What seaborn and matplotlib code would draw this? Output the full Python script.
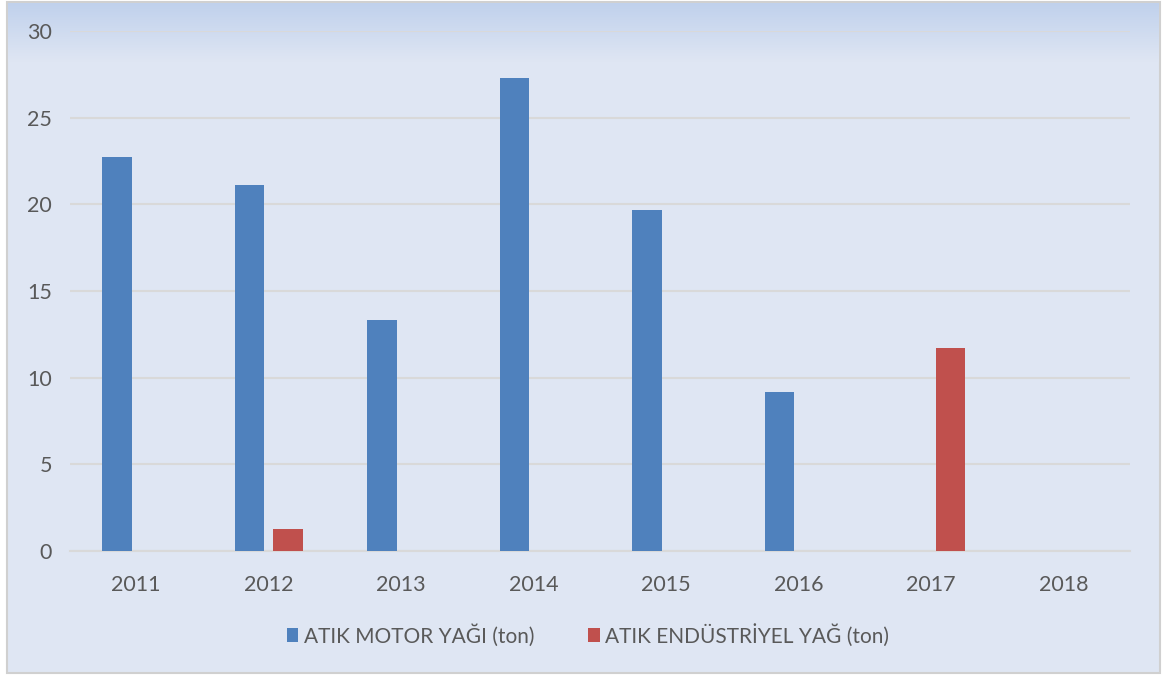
import numpy as np
import pandas as pd
import matplotlib
matplotlib.use("Agg")
import matplotlib.pyplot as plt
from matplotlib.patches import Rectangle, Patch
import seaborn as sns

years = ["2011", "2012", "2013", "2014", "2015", "2016", "2017", "2018"]
motor_oil = [22.75, 21.1, 13.35, 27.3, 19.65, 9.2, 0, 0]
industrial_oil = [0, 1.25, 0, 0, 0, 0, 11.7, 0]
series_names = ["ATIK MOTOR YAĞI (ton)", "ATIK ENDÜSTRİYEL YAĞ (ton)"]
colors = ["#4F81BD", "#C0504D"]
yticks = [0, 5, 10, 15, 20, 25, 30]

df = pd.DataFrame({
    "year": years * 2,
    "value": motor_oil + industrial_oil,
    "series": [series_names[0]] * len(years) + [series_names[1]] * len(years),
})

sns.set_theme(style="white")
plt.rcParams["font.family"] = ["Lato", "DejaVu Sans"]

W, H = 1163, 675
fig = plt.figure(figsize=(W / 100, H / 100), dpi=100)
fig.patch.set_facecolor("white")

# background with top gradient
bg = fig.add_axes([0, 0, 1, 1], zorder=-10)
bg.set_xlim(0, W)
bg.set_ylim(H, 0)
bg.axis("off")
bg.add_patch(Rectangle((7, 2), 1153, 671, facecolor="#DFE6F3", edgecolor="#D0D0D0", lw=1.5))
top_c = np.array([0xC0, 0xD1, 0xEC]) / 255
bot_c = np.array([0xDF, 0xE6, 0xF3]) / 255
n = 64
t = np.linspace(0, 1, n)[:, None]
grad = (top_c[None, :] * (1 - t) + bot_c[None, :] * t)[:, None, :]
bg.imshow(grad, extent=(8, 1159, 62, 3), aspect="auto", interpolation="bilinear", zorder=1)

ax = fig.add_axes([70 / W, 1 - 551 / H, (1130 - 70) / W, (551 - 31) / H])
ax.patch.set_alpha(0)
sns.barplot(data=df, x="year", y="value", hue="series", palette=colors,
            saturation=1, width=0.58, gap=0.23, ax=ax, legend=False, zorder=3,
            edgecolor="none")
ax.set_ylim(0, 30)
ax.set_xlim(-0.5, len(years) - 0.5)
ax.set_yticks(yticks)
ax.yaxis.grid(True, color="#D9D9D9", lw=1.5, zorder=0)
ax.set_axisbelow(True)
for s in ["top", "right", "left"]:
    ax.spines[s].set_visible(False)
ax.spines["bottom"].set_color("#D9D9D9")
ax.spines["bottom"].set_linewidth(1.5)
ax.set_xlabel("")
ax.set_ylabel("")
ax.tick_params(axis="both", length=0, labelsize=15.5, colors="#595959")
ax.tick_params(axis="y", pad=13)
ax.tick_params(axis="x", pad=17)

handles = [Patch(facecolor=c, edgecolor="none") for c in colors]
fig.legend(handles, series_names, loc="center", bbox_to_anchor=(588 / W, 1 - 635 / H),
           ncol=2, frameon=False, fontsize=15, labelcolor="#595959",
           handlelength=0.55, handleheight=0.7, handletextpad=0.25, columnspacing=2.6)

fig.savefig("out.png", dpi=100, facecolor="white")
